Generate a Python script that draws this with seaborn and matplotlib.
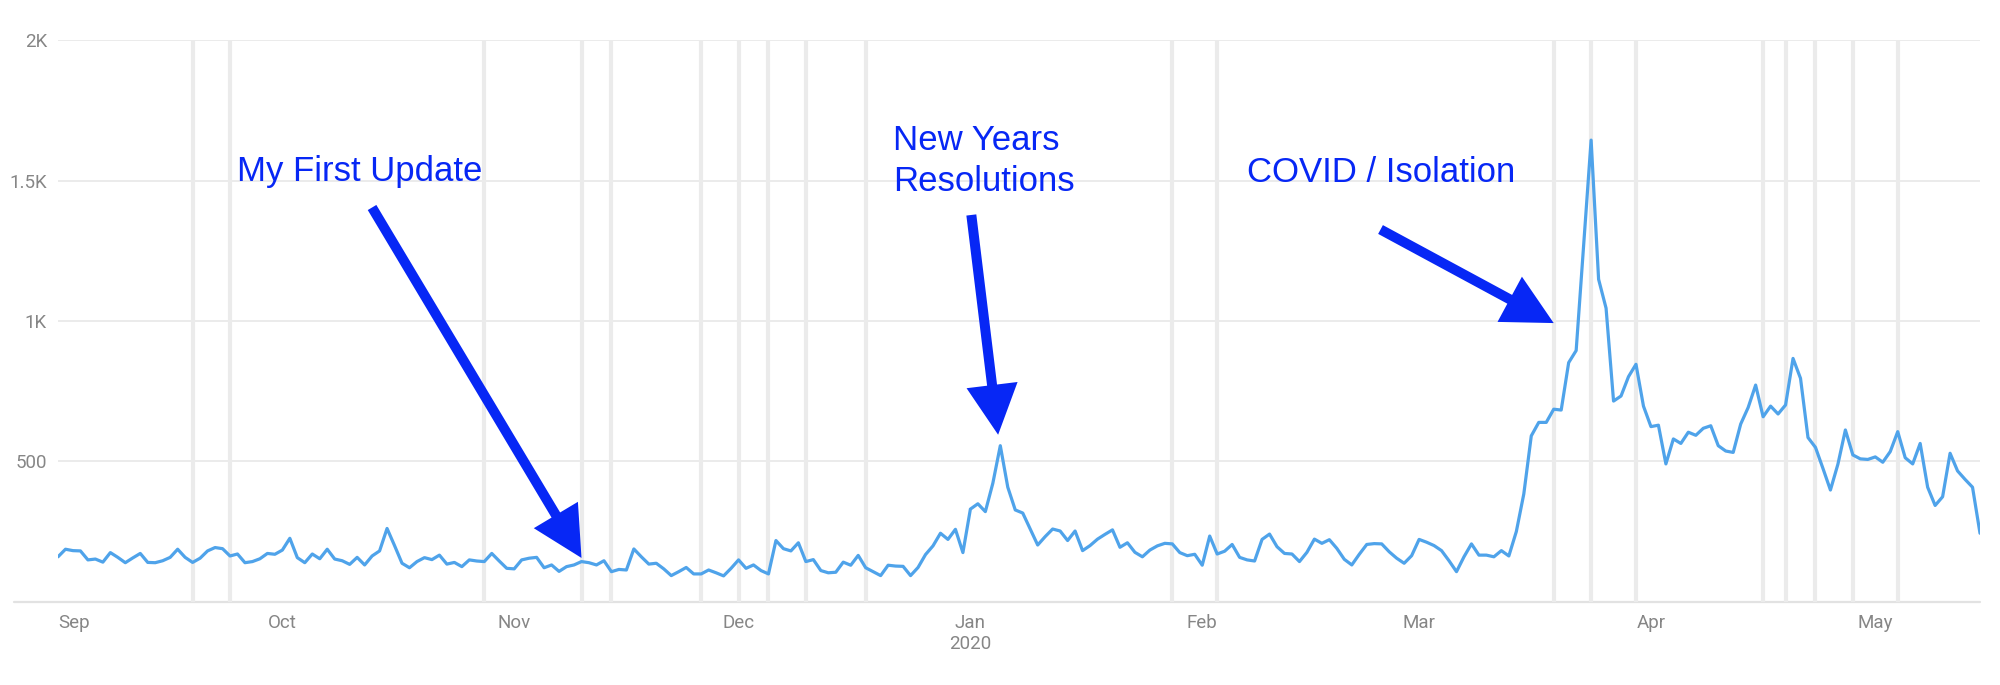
import pandas as pd
import matplotlib
matplotlib.use("Agg")
import matplotlib.pyplot as plt
import matplotlib.dates as mdates
import seaborn as sns

# daily users, one list per month
sep_2019 = [160, 187, 182, 181, 149, 152, 141, 175, 158, 139,
            156, 172, 140, 139, 146, 158, 187, 158, 140, 155,
            181, 193, 189, 163, 170, 139, 143, 153, 172, 169]
oct_2019 = [184, 226, 157, 139, 170, 153, 187, 152, 146, 133,
            158, 131, 163, 181, 261, 200, 137, 121, 143, 157,
            150, 166, 134, 140, 125, 149, 145, 143, 172, 145, 119]
nov_2019 = [117, 149, 155, 158, 121, 131, 108, 125, 131, 143,
            139, 131, 146, 107, 115, 113, 188, 160, 134, 137,
            117, 93, 107, 122, 99, 99, 113, 103, 92, 119]
dec_2019 = [149, 119, 131, 111, 99, 218, 189, 181, 210, 143,
            150, 111, 103, 105, 141, 130, 165, 121, 107, 93,
            130, 127, 126, 93, 122, 168, 199, 244, 222, 258, 175]
jan_2020 = [330, 349, 321, 422, 556, 408, 327, 316, 259, 202,
            232, 259, 252, 218, 252, 182, 200, 223, 240, 256,
            194, 210, 176, 160, 184, 199, 208, 206, 175, 164, 169]
feb_2020 = [130, 234, 170, 180, 204, 158, 149, 145, 222, 241,
            196, 172, 170, 143, 176, 223, 208, 221, 190, 151,
            131, 169, 204, 207, 206, 178, 155, 137, 164]
mar_2020 = [222, 212, 200, 182, 146, 107, 160, 206, 166, 166,
            160, 182, 163, 250, 384, 591, 639, 639, 686, 683,
            852, 895, 1269, 1645, 1149, 1046, 715, 733, 802, 846, 697]
apr_2020 = [624, 629, 491, 580, 564, 604, 593, 618, 627, 556,
            537, 532, 633, 692, 772, 659, 697, 669, 701, 867,
            796, 585, 550, 475, 398, 490, 612, 523, 509, 507]
may_2020 = [516, 497, 535, 606, 513, 491, 564, 408, 343, 374,
            529, 466, 436, 408, 244]

# days with an annotation marker (the grey bars)
marker_days = ["2019-09-19", "2019-09-24", "2019-10-28", "2019-11-10",
               "2019-11-14", "2019-11-26", "2019-12-01", "2019-12-05",
               "2019-12-10", "2019-12-18", "2020-01-28", "2020-02-03",
               "2020-03-19", "2020-03-24", "2020-03-30", "2020-04-16",
               "2020-04-19", "2020-04-23", "2020-04-28", "2020-05-04"]

month_ticks = ["2019-09-01", "2019-10-01", "2019-11-01", "2019-12-01",
               "2020-01-01", "2020-02-01", "2020-03-01", "2020-04-01",
               "2020-05-01"]
month_labels = ["Sep", "Oct", "Nov", "Dec", "Jan\n2020", "Feb", "Mar", "Apr", "May"]
y_ticks = [0, 500, 1000, 1500, 2000]
y_labels = ["", "500", "1K", "1.5K", "2K"]

users = (sep_2019 + oct_2019 + nov_2019 + dec_2019 + jan_2020
         + feb_2020 + mar_2020 + apr_2020 + may_2020)
df = pd.DataFrame({"date": pd.date_range("2019-09-01", periods=len(users), freq="D"),
                   "users": users})

sns.set_theme(style="white")
plt.rcParams["font.family"] = ["Liberation Sans", "DejaVu Sans"]

blue = "#0727f5"
tick_grey = "#868686"

fig = plt.figure(figsize=(20, 6.85), dpi=100)
ax = fig.add_axes([0.029, 0.1216, 0.961, 0.8193])

# annotation markers
for d in marker_days:
    ax.axvline(pd.Timestamp(d), color="#ebebeb", lw=3.0, zorder=1)

# horizontal grid
for y in y_ticks[1:]:
    ax.axhline(y, color="#e6e6e6", lw=1.1, zorder=0)
ax.axhline(0, xmin=-0.023, xmax=1, color="#e2e2e2", lw=1.6, clip_on=False, zorder=0)

sns.lineplot(data=df, x="date", y="users", ax=ax, color="#4fa3ea", lw=2.3, zorder=3)

ax.set_xlim(df["date"].iloc[0], df["date"].iloc[-1])
ax.set_ylim(0, 2000)
ax.set_xlabel("")
ax.set_ylabel("")
for s in ax.spines.values():
    s.set_visible(False)

ax.set_yticks(y_ticks)
ax.set_yticklabels(y_labels)
ax.set_xticks([pd.Timestamp(t) for t in month_ticks])
ax.set_xticklabels(month_labels)
ax.tick_params(axis="both", length=0, colors=tick_grey, labelsize=13.5)
ax.tick_params(axis="x", pad=9)
ax.tick_params(axis="y", pad=8)
for lab in ax.get_xticklabels() + ax.get_yticklabels():
    lab.set_family(["Roboto", "DejaVu Sans"])
ax.get_xticklabels()[0].set_ha("left")

# call-outs
txt = dict(color=blue, fontsize=25, transform=ax.transAxes, va="baseline", ha="left")
ax.text(0.0929, 0.7497, "My First Update", **txt)
ax.text(0.4346, 0.8052, "New Years", **txt)
ax.text(0.4346, 0.7318, "Resolutions", **txt)
ax.text(0.6188, 0.7484, "COVID / Isolation", **txt)

arrow = dict(arrowstyle="simple,head_length=36,head_width=37,tail_width=7.2",
             mutation_scale=1, color=blue, lw=0, shrinkA=0, shrinkB=0)
callouts = [((0.1634, 0.7024), pd.Timestamp("2019-11-10"), 156),
            ((0.4752, 0.6891), pd.Timestamp("2020-01-04 17:00"), 595),
            ((0.6881, 0.6632), pd.Timestamp("2020-03-19"), 993)]
for tail, tip_date, tip_val in callouts:
    ax.annotate("", xy=(mdates.date2num(tip_date), tip_val), xycoords="data",
                xytext=tail, textcoords="axes fraction", arrowprops=arrow, zorder=5)

fig.savefig("out.png", dpi=100, facecolor="white")
